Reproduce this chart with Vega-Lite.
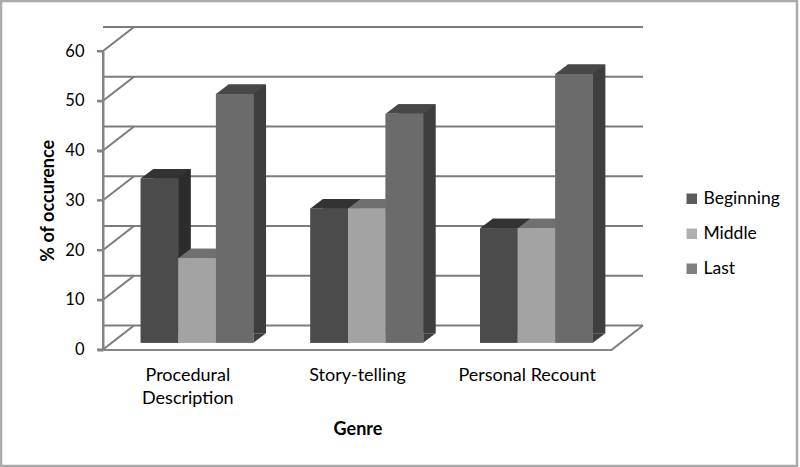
{
"$schema":"https://vega.github.io/schema/vega-lite/v6.json",
"width":509,"height":298.5,
"autosize":{"type":"none"},
"padding":{"left":103,"top":51,"right":188,"bottom":117.5},
"background":"#ffffff",
"config":{"view":{"stroke":null},"font":"Lato"},
"datasets":{
"bars":[
{"genre":"Procedural Description","series":"Beginning","value":33},
{"genre":"Procedural Description","series":"Middle","value":17},
{"genre":"Procedural Description","series":"Last","value":50},
{"genre":"Story-telling","series":"Beginning","value":27},
{"genre":"Story-telling","series":"Middle","value":27},
{"genre":"Story-telling","series":"Last","value":46},
{"genre":"Personal Recount","series":"Beginning","value":23},
{"genre":"Personal Recount","series":"Middle","value":23},
{"genre":"Personal Recount","series":"Last","value":54}],
"ticks":[{"tick":0},{"tick":10},{"tick":20},{"tick":30},{"tick":40},{"tick":50},{"tick":60}],
"first":[{"genre":"Procedural Description","tick":60},{"genre":"Procedural Description","tick":50},{"genre":"Procedural Description","tick":40},{"genre":"Procedural Description","tick":30},{"genre":"Procedural Description","tick":20},{"genre":"Procedural Description","tick":10},{"genre":"Procedural Description","tick":0}],
"last":[{"genre":"Personal Recount","tick":0}],
"corner":[{"genre":"Procedural Description","tick":60}]
},
"encoding":{
 "y":{"type":"quantitative","scale":{"domain":[0,60],"nice":false},"title":"% of occurence",
   "axis":{"title":"% of occurence","titleFont":"Lato","titleFontSize":18,"titleFontWeight":"bold","titleColor":"#000000","titlePadding":7,"values":[0,10,20,30,40,50,60],"labelFont":"Lato","labelFontSize":16.5,"labelColor":"#000000","labelPadding":13,"ticks":true,"domain":true,"zindex":1,"tickSize":6,"tickColor":"#858585","tickWidth":2,"domainColor":"#858585","domainWidth":2,"grid":false}}
},
"layer":[
{"data":{"name":"corner"},
 "mark":{"type":"point","filled":false,"opacity":1,"size":400,"stroke":"#aaaaaa","strokeWidth":2.5,"shape":"M-10.2,41.5L-10.2,-5L69.4,-5L69.4,41.5Z","xOffset":-84.83},
 "encoding":{"x":{"field":"genre","type":"nominal","sort":["Procedural Description","Story-telling","Personal Recount"],"scale":{"domain":["Procedural Description","Story-telling","Personal Recount"],"paddingInner":0,"paddingOuter":0},
   "axis":{"title":"Genre","titleFont":"Lato","titleFontSize":18,"titleFontWeight":"bold","titleColor":"#000000","titlePadding":13,"labelFont":"Lato","labelFontSize":18,"labelColor":"#000000","labelAngle":0,"labelPadding":17,"ticks":false,"domainColor":"#858585","domainWidth":2,"labelExpr":"datum.label=='Procedural Description'?['Procedural','Description']:datum.label","labelLimit":200,"labelLineHeight":23}},
   "y":{"field":"tick"}}},
{"data":{"name":"corner"},
 "mark":{"type":"point","filled":false,"opacity":1,"size":400,"stroke":"#7c7c7c","strokeWidth":2,"shape":"M0,0L0,29.85","xOffset":-84.83},
 "encoding":{"x":{"field":"genre","type":"nominal"},"y":{"field":"tick"}}},
{"data":{"name":"ticks"},
 "mark":{"type":"rule","color":"#7c7c7c","strokeWidth":2,"xOffset":31,"x2Offset":31,"yOffset":-24,"y2Offset":-24},
 "encoding":{"y":{"field":"tick"}}},
{"data":{"name":"first"},
 "mark":{"type":"point","filled":false,"opacity":1,"size":400,"stroke":"#7c7c7c","strokeWidth":2,"shape":"M-0.6,0L0,0L3.1,-2.4","xOffset":-84.83},
 "encoding":{"x":{"field":"genre","type":"nominal"},"y":{"field":"tick"}}},
{"data":{"name":"last"},
 "mark":{"type":"point","filled":false,"opacity":1,"size":400,"stroke":"#7c7c7c","strokeWidth":2,"shape":"M0,0L3.1,-2.4","xOffset":84.83},
 "encoding":{"x":{"field":"genre","type":"nominal"},"y":{"field":"tick"}}},
{"data":{"name":"bars"},
 "encoding":{"x":{"field":"genre","type":"nominal"},
   "y":{"field":"value"}},
 "layer":[
  {"mark":{"type":"bar","yOffset":-16.3,"y2Offset":-16.3},
   "encoding":{"xOffset":{"field":"series","type":"nominal","scale":{"domain":["Beginning","Middle","Last"],"range":[21.8,191.47],"paddingInner":0,"paddingOuter":0.756}},
     "color":{"field":"series","type":"nominal","legend":null,"scale":{"domain":["Beginning","Middle","Last"],"range":["#2c2c2c","#686868","#3e3e3e"]}}}},
  {"mark":{"type":"point","filled":true,"opacity":1,"size":400,"strokeWidth":0,"shape":"M-1.88,0L1.88,0L3.13,-0.95L-0.63,-0.95Z","yOffset":-6.8},
   "encoding":{"xOffset":{"field":"series","type":"nominal","scale":{"type":"band","domain":["Beginning","Middle","Last"],"range":[9.3,178.97],"paddingInner":0,"paddingOuter":0.756}},
     "color":{"field":"series","type":"nominal","legend":null,"scale":{"domain":["Beginning","Middle","Last"],"range":["#333333","#707070","#484848"]}}}},
  {"transform":[{"filter":"datum.series=='Last'"}],
   "mark":{"type":"point","filled":true,"opacity":1,"size":400,"strokeWidth":0,"shape":"M1.88,0L3.13,-0.95L1.88,-0.95Z","yOffset":-6.8,"color":"#3e3e3e"},
   "encoding":{"xOffset":{"field":"series","type":"nominal","scale":{"type":"band","domain":["Beginning","Middle","Last"],"range":[9.3,178.97],"paddingInner":0,"paddingOuter":0.756}},
     "y":{"datum":0}}},
  {"mark":{"type":"bar","yOffset":-6.8,"y2Offset":-6.8},
   "encoding":{"xOffset":{"field":"series","type":"nominal","scale":{"domain":["Beginning","Middle","Last"],"range":[9.3,178.97],"paddingInner":0,"paddingOuter":0.756}},
     "color":{"field":"series","type":"nominal","scale":{"domain":["Beginning","Middle","Last"],"range":["#5c5c5c","#b0b0b0","#808080"]},
     "legend":{"title":null,"orient":"none","legendX":580,"legendY":139,"symbolType":"square","symbolSize":110,"symbolOpacity":1,"labelFont":"Lato","labelFontSize":17.5,"labelColor":"#000000","rowPadding":16,"labelOffset":3}}}},
  {"mark":{"type":"bar","yOffset":-6.8,"y2Offset":-6.8},
   "encoding":{"xOffset":{"field":"series","type":"nominal","scale":{"domain":["Beginning","Middle","Last"],"range":[9.3,178.97],"paddingInner":0,"paddingOuter":0.756}},
     "color":{"field":"series","type":"nominal","legend":null,"scale":{"domain":["Beginning","Middle","Last"],"range":["#4b4b4b","#a3a3a3","#6b6b6b"]}}}}
 ],
 "resolve":{"scale":{"color":"independent","xOffset":"independent"}}}
]
}
